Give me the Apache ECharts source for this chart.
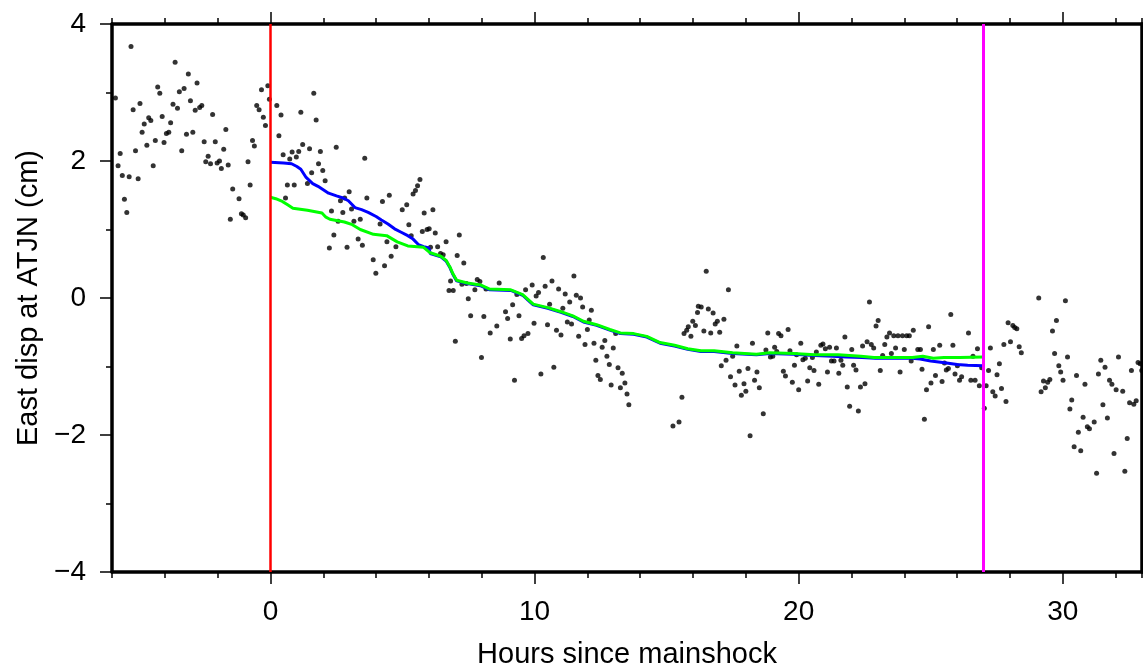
<!DOCTYPE html>
<html>
<head>
<meta charset="utf-8">
<script src="https://cdn.jsdelivr.net/npm/echarts@6/dist/echarts.min.js"></script>
<style>
html,body{margin:0;padding:0;background:#fff;}
#chart{width:1143px;height:663px;}
</style>
</head>
<body>
<div id="chart"></div>
<script>
// ---- data ----
const dotHours = [
-5.87,-5.77,-5.69,-5.61,-5.53,-5.44,-5.35,-5.28,-5.20,-5.11,-5.01,-4.94,-4.86,-4.78,-4.68,-4.61,-4.53,-4.44,-4.36,-4.27,
-4.19,-4.10,-4.03,-3.94,-3.85,-3.78,-3.69,-3.61,-3.52,-3.45,-3.36,-3.27,-3.18,-3.11,-3.03,-2.94,-2.85,-2.78,-2.68,-2.60,
-2.51,-2.45,-2.36,-2.27,-2.19,-2.09,-2.02,-1.93,-1.86,-1.77,-1.69,-1.60,-1.52,-1.43,-1.19,-1.10,-1.03,-0.94,-0.85,-0.77,
-0.68,-0.61,-0.52,-0.43,-0.34,-0.27,-0.19,-0.10,-0.04,
0.24,0.32,0.40,0.48,0.57,0.64,0.73,0.82,0.90,0.98,1.07,1.15,1.22,1.40,1.48,1.56,1.64,1.73,1.82,1.89,
1.98,2.07,2.23,2.31,2.40,2.49,2.56,2.65,2.74,2.81,2.90,2.98,3.07,3.16,3.32,3.40,3.48,3.57,3.65,3.89,
3.99,4.15,4.24,4.32,4.41,4.50,4.57,4.75,4.99,5.16,5.24,5.33,5.40,5.49,5.57,5.66,5.75,5.82,5.93,6.01,
6.06,6.15,6.24,6.33,6.44,6.54,6.65,6.76,6.82,6.92,7.00,7.07,7.15,7.25,7.32,7.42,7.49,7.58,7.74,7.83,
7.93,7.99,8.08,8.16,8.32,8.57,8.66,8.90,8.98,9.08,9.17,9.24,9.33,9.41,9.51,9.60,9.66,9.75,9.91,9.98,
10.06,10.15,10.24,10.33,10.40,10.49,10.57,10.66,10.73,10.83,10.91,11.00,11.07,11.16,11.24,11.33,11.40,11.49,11.58,11.67,
11.74,11.82,11.91,12.00,12.07,12.15,12.25,12.32,12.40,12.49,12.56,12.66,12.74,12.83,12.90,12.98,13.07,13.16,13.25,13.32,
13.42,13.50,13.57,
15.24,15.47,15.58,15.66,15.76,15.82,15.92,15.99,16.09,16.17,16.20,16.31,16.41,16.50,16.58,16.67,16.76,16.84,16.92,17.01,
17.07,17.17,17.25,17.34,17.42,17.50,17.59,17.66,17.75,17.83,17.93,18.00,18.08,18.16,18.25,18.33,18.42,18.51,18.66,18.76,
18.83,18.93,19.02,19.09,19.17,19.24,19.33,19.42,19.50,19.60,19.67,19.76,19.84,19.92,20.00,20.08,20.16,20.25,20.34,20.42,
20.52,20.58,20.67,20.76,20.84,20.92,21.01,21.09,21.17,21.24,21.34,21.43,21.52,21.60,21.67,21.75,21.84,21.93,22.01,22.08,
22.17,22.26,22.34,22.42,22.51,22.59,22.68,22.75,22.84,22.93,23.01,23.09,23.18,23.26,23.34,23.44,23.51,23.60,23.67,23.76,
23.84,23.93,24.00,24.09,24.19,24.26,24.34,24.51,24.61,24.67,24.76,24.84,24.92,25.01,25.10,25.18,25.34,25.43,25.52,25.59,
25.67,25.76,25.84,25.92,26.01,26.09,26.17,26.43,26.52,26.60,26.68,26.77,26.84,26.93,27.03,27.10,27.19,27.26,27.35,27.44,
27.51,27.60,27.68,27.77,27.85,27.93,28.02,28.11,28.18,28.26,28.35,28.43,
29.09,29.18,29.27,29.34,29.43,29.51,29.61,29.69,29.76,29.85,29.92,30.01,30.10,30.18,30.27,30.34,30.43,30.52,30.59,30.68,
30.77,30.84,30.93,31.01,31.19,31.28,31.35,31.44,31.52,31.60,31.69,31.77,31.86,31.94,32.02,32.11,32.27,32.35,32.44,32.53,
32.60,32.69,32.78,32.85,32.93,32.99
];
const dotEastCm = [
2.92,1.93,2.11,1.79,1.44,1.25,1.77,3.67,2.75,2.15,1.74,2.84,2.42,2.54,2.23,2.63,2.59,1.93,2.30,3.08,
2.99,2.65,2.27,2.40,2.42,2.56,2.83,3.44,2.77,3.01,2.15,3.06,2.39,3.27,2.88,2.42,2.74,3.14,2.78,2.81,
2.28,1.99,2.07,1.96,2.68,2.28,1.97,2.00,1.89,2.17,2.46,1.94,1.15,1.59,1.45,1.23,1.21,1.17,1.99,1.65,
2.30,2.22,2.81,2.75,3.04,2.64,2.52,3.10,2.90,
2.81,2.37,2.67,2.09,1.46,1.65,2.03,2.13,1.65,2.06,2.14,2.71,2.24,1.67,2.18,1.83,2.99,2.60,1.96,2.14,
1.86,1.71,0.73,1.27,0.92,2.20,1.12,1.42,1.25,1.46,0.74,1.55,1.30,1.12,0.86,1.15,0.77,2.04,1.46,0.56,
0.36,1.08,1.41,0.47,0.82,1.50,0.61,0.75,1.29,1.36,1.07,0.91,1.52,1.57,1.64,1.73,0.97,1.24,1.00,1.01,
0.74,1.29,0.95,0.75,0.65,0.63,0.82,0.11,0.25,0.11,-0.63,0.62,0.92,0.20,0.51,0.21,-0.01,-0.26,0.12,0.27,
0.24,-0.87,-0.27,0.13,-0.51,-0.41,0.22,-0.20,-0.30,-0.60,-0.10,-1.20,0.05,-0.26,-0.59,-0.55,0.12,-0.52,0.19,-0.37,
0.03,0.08,-1.11,0.59,0.17,-0.39,-0.09,0.25,-1.01,-0.47,0.13,-0.54,-0.15,0.06,-0.35,-0.06,-0.38,0.32,0.04,-0.56,
0.00,-0.13,-0.68,-0.46,-0.32,-0.18,-0.66,-0.91,-1.13,-1.19,-0.72,-0.62,-0.85,-0.97,-1.27,-0.73,-0.52,-1.02,-1.31,-1.10,
-1.24,-1.40,-1.56,
-1.87,-1.81,-1.45,-0.52,-0.47,-0.42,-0.56,-0.34,-0.40,-0.21,-0.12,-0.13,-0.48,0.39,-0.16,-0.51,-0.22,-0.38,-0.34,-0.50,
-0.99,-0.31,-0.91,0.12,-1.15,-0.85,-1.27,-0.70,-1.07,-1.42,-1.25,-1.36,-1.03,-2.01,-0.66,-1.20,-1.08,-1.31,-1.69,-0.76,
-0.51,-0.86,-0.85,-0.72,-0.78,-0.52,-0.55,-1.07,-1.14,-0.46,-0.77,-1.23,-0.98,-0.83,-1.34,-0.66,-0.90,-0.88,-1.21,-1.02,
-0.87,-1.06,-0.79,-1.26,-0.69,-0.67,-0.74,-1.08,-0.72,-0.92,-0.92,-0.73,-1.10,-0.91,-0.98,-0.57,-1.30,-1.58,-0.75,-0.98,
-1.05,-1.65,-1.30,-0.70,-1.25,-0.64,-0.06,-0.68,-0.73,-0.41,-0.33,-1.06,-0.84,-0.68,-0.57,-0.51,-0.81,-0.55,-0.73,-0.55,
-1.08,-0.55,-0.75,-0.55,-0.55,-0.92,-0.47,-0.75,-0.75,-1.04,-1.77,-1.34,-0.42,-1.24,-0.75,-1.13,-0.69,-1.22,-0.95,-1.05,
-1.03,-0.24,-0.69,-1.11,-0.99,-1.20,-1.15,-0.51,-1.20,-0.85,-1.20,-0.74,-1.28,-1.02,-1.61,-1.28,-1.06,-0.73,-1.37,-1.43,
-1.12,-0.96,-1.32,-0.68,-1.51,-0.36,-0.64,-0.40,-0.43,-0.45,-0.71,-0.80,
0.00,-1.37,-1.21,-1.31,-1.23,-1.19,-0.48,-0.81,-0.33,-0.99,-1.08,-1.20,-0.04,-0.86,-1.62,-1.49,-2.17,-1.13,-1.96,-2.23,
-1.74,-1.26,-1.88,-1.91,-1.81,-2.56,-1.11,-0.91,-1.56,-1.01,-1.75,-1.20,-1.26,-2.27,-1.34,-0.86,-1.36,-2.53,-2.05,-1.53,
-1.06,-1.55,-1.50,-0.94,-0.96,-1.06
];

const blueHours = [0.0,0.5,0.8,1.0,1.15,1.35,1.6,1.8,2.0,2.2,2.5,2.75,2.95,3.2,3.45,3.7,4.0,4.2,4.45,4.7,4.95,5.2,5.4,5.6,5.8,6.0,
  6.05,6.45,6.65,6.8,6.9,7.05,7.45,7.95,8.3,9.1,9.55,9.75,9.95,10.5,11.0,11.45,11.85,12.35,12.85,13.25,13.75,14.25,14.75,15.3,15.8,16.3,16.8,17.5,18.4,18.9,19.8,20.6,21.3,21.8,22.4,22.9,23.6,24.3,24.6,25.0,25.6,26.0,26.4,27.0];
const blueEastCm = [1.98,1.97,1.96,1.92,1.88,1.76,1.67,1.63,1.58,1.53,1.49,1.46,1.42,1.32,1.29,1.25,1.19,1.14,1.08,1.01,0.96,0.91,0.86,0.78,0.75,0.73,
  0.65,0.60,0.54,0.44,0.35,0.25,0.21,0.18,0.12,0.11,0.04,-0.03,-0.10,-0.15,-0.21,-0.27,-0.35,-0.40,-0.47,-0.52,-0.53,-0.57,-0.66,-0.70,-0.75,-0.78,-0.78,-0.81,-0.83,-0.81,-0.82,-0.84,-0.85,-0.86,-0.87,-0.88,-0.88,-0.88,-0.89,-0.92,-0.95,-0.97,-0.98,-0.99];

const greenHours = [0.0,0.2,0.45,0.65,0.85,1.4,1.95,2.1,2.25,2.8,3.1,3.4,3.9,4.4,4.8,5.2,5.8,6.05,6.45,6.65,6.8,6.9,7.05,7.45,7.95,8.3,9.1,9.55,9.75,9.95,
  10.5,11.0,11.45,11.85,12.35,12.85,13.25,13.75,14.25,14.75,15.3,15.8,16.3,16.8,17.5,18.4,18.9,19.8,20.6,21.5,22.35,22.85,23.6,24.3,24.7,25.1,25.5,26.1,27.0];
const greenEastCm = [1.47,1.45,1.41,1.36,1.31,1.28,1.24,1.18,1.15,1.11,1.07,1.00,0.93,0.91,0.82,0.76,0.74,0.66,0.61,0.55,0.45,0.36,0.26,0.22,0.19,0.13,0.12,0.05,-0.02,-0.09,
  -0.14,-0.20,-0.26,-0.34,-0.39,-0.46,-0.51,-0.52,-0.56,-0.65,-0.69,-0.74,-0.77,-0.77,-0.80,-0.82,-0.80,-0.81,-0.83,-0.83,-0.85,-0.87,-0.87,-0.87,-0.85,-0.88,-0.87,-0.87,-0.86];

const mainshockHour = 0;
const windowEndHour = 27;

const xMajorTicks = [0, 10, 20, 30];
const xMin = -6, xMax = 33, xMinorStep = 2;
const yMin = -4, yMax = 4, yStep = 2;

// ---- build ----
const zip = (a, b) => a.map((v, i) => [v, b[i]]);
const FONT = 'Liberation Sans, Arial, Helvetica, sans-serif';
const minus = v => String(v).replace('-', '\u2212');

const frame = { show: true, onZero: false, lineStyle: { color: '#000', width: 3.5 } };
const noLine = { show: false, onZero: false };
const tickStyle = { color: '#000', width: 1.5 };

const chart = echarts.init(document.getElementById('chart'), null, { renderer: 'canvas' });
chart.setOption({
  animation: false,
  backgroundColor: '#fff',
  grid: { left: 112, right: 1, top: 24, bottom: 91, containLabel: false, outerBoundsMode: 'none' },
  xAxis: [
    { type: 'value', position: 'bottom', min: xMin, max: xMax, interval: xMinorStep,
      axisLine: frame, splitLine: { show: false },
      axisTick: { show: true, inside: false, length: 6, lineStyle: tickStyle },
      axisLabel: { show: true, margin: 26, fontSize: 28, color: '#000', fontFamily: FONT,
        formatter: v => (xMajorTicks.indexOf(v) >= 0 ? String(v) : '') },
      name: 'Hours since mainshock', nameLocation: 'middle', nameGap: 68,
      nameTextStyle: { fontSize: 29, color: '#000', fontFamily: FONT } },
    { type: 'value', position: 'bottom', min: xMin, max: xMax,
      axisLine: noLine, splitLine: { show: false },
      axisTick: { show: true, length: 12, customValues: xMajorTicks, lineStyle: tickStyle },
      axisLabel: { show: false } },
    { type: 'value', position: 'top', min: xMin, max: xMax, interval: xMinorStep,
      axisLine: frame, splitLine: { show: false },
      axisTick: { show: true, length: 6, lineStyle: tickStyle },
      axisLabel: { show: false } },
    { type: 'value', position: 'top', min: xMin, max: xMax,
      axisLine: noLine, splitLine: { show: false },
      axisTick: { show: true, length: 12, customValues: xMajorTicks, lineStyle: tickStyle },
      axisLabel: { show: false } }
  ],
  yAxis: [
    { type: 'value', position: 'left', min: yMin, max: yMax, interval: yStep,
      axisLine: frame, splitLine: { show: false },
      axisTick: { show: true, length: 12, lineStyle: tickStyle },
      minorTick: { show: true, splitNumber: 2, length: 6, lineStyle: tickStyle },
      axisLabel: { show: true, margin: 26, fontSize: 28, color: '#000', fontFamily: FONT, formatter: minus },
      name: 'East disp at ATJN (cm)', nameLocation: 'middle', nameGap: 68,
      nameTextStyle: { fontSize: 29, color: '#000', fontFamily: FONT } },
    { type: 'value', position: 'right', min: yMin, max: yMax, interval: yStep,
      axisLine: frame, splitLine: { show: false },
      axisTick: { show: true, length: 12, lineStyle: tickStyle },
      minorTick: { show: true, splitNumber: 2, length: 6, lineStyle: tickStyle },
      axisLabel: { show: false } }
  ],
  series: [
    { type: 'scatter', xAxisIndex: 0, yAxisIndex: 0, data: zip(dotHours, dotEastCm),
      symbol: 'circle', symbolSize: 5, itemStyle: { color: '#000' }, z: 2 },
    { type: 'line', xAxisIndex: 0, yAxisIndex: 0, data: zip(blueHours, blueEastCm),
      showSymbol: false, symbol: 'none', lineStyle: { color: '#0000ff', width: 3 }, z: 3 },
    { type: 'line', xAxisIndex: 0, yAxisIndex: 0, data: zip(greenHours, greenEastCm),
      showSymbol: false, symbol: 'none', lineStyle: { color: '#00ff00', width: 3 }, z: 4,
      markLine: { silent: true, symbol: ['none', 'none'], label: { show: false }, animation: false,
        data: [
          { xAxis: mainshockHour, lineStyle: { color: '#ff0000', width: 2.5, type: 'solid' } },
          { xAxis: windowEndHour, lineStyle: { color: '#ff00ff', width: 3, type: 'solid' } }
        ] } }
  ]
});
</script>
</body>
</html>
